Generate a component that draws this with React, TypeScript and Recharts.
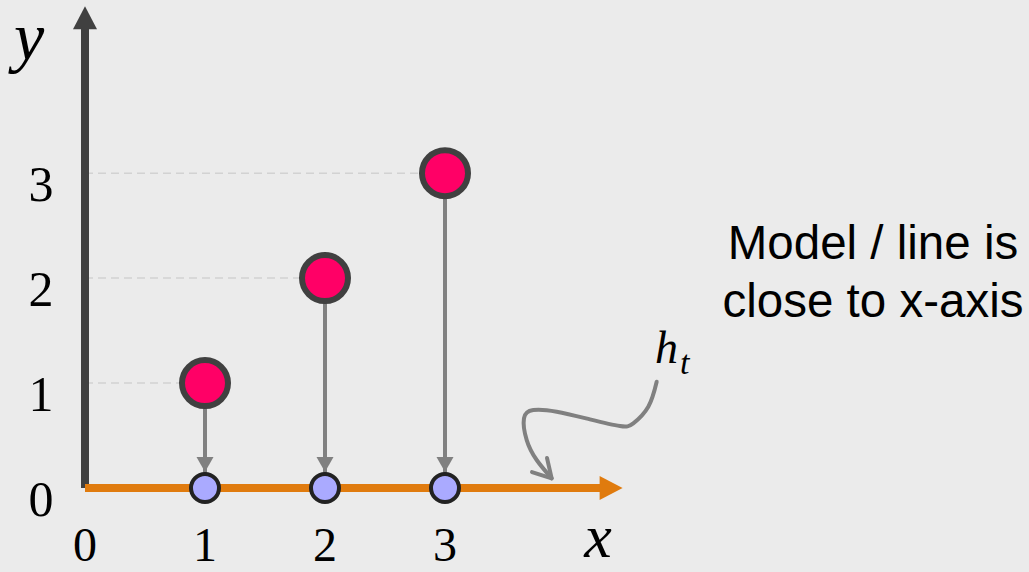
import React from 'react';
import { ComposedChart, XAxis, YAxis, Line, Scatter } from 'recharts';

// ---- data ----
const categories = [1, 2, 3];
const observed = [1, 2, 3];
const predicted = [0, 0, 0];
const xTicks = [0, 1, 2, 3];
const yTicks = [0, 1, 2, 3];
const xAxisEnd = 4.48;
const yAxisEnd = 4.59;
const curveX = [4.764, 4.694, 4.569, 4.458, 4.208, 3.931, 3.736, 3.658, 3.681, 3.764, 3.889];
const curveY = [1.012, 0.774, 0.616, 0.59, 0.654, 0.727, 0.743, 0.664, 0.457, 0.267, 0.092];
const headX = [3.725, 3.889, 3.85];
const headY = [0.152, 0.092, 0.286];

const redPts = categories.map((x, i) => ({ x, y: observed[i] }));
const bluePts = categories.map((x, i) => ({ x, y: predicted[i] }));
const guideLines = categories.map((x, i) => [
  { x: 0, y: observed[i] },
  { x, y: observed[i] },
]);
const dropLines = categories.map((x, i) => [
  { x, y: observed[i] },
  { x, y: predicted[i] },
]);
const yAxisLine = [
  { x: 0, y: 0 },
  { x: 0, y: yAxisEnd - 0.2 },
];
const xAxisLine = [
  { x: 0, y: 0 },
  { x: xAxisEnd - 0.18, y: 0 },
];
const yAxisTip = [{ x: 0, y: yAxisEnd }];
const xAxisTip = [{ x: xAxisEnd, y: 0 }];
const curvePts = curveX.map((x, i) => ({ x, y: curveY[i] }));
const headPts = headX.map((x, i) => ({ x, y: headY[i] }));

const W = 1029;
const H = 572;
const SERIF = '"Liberation Serif", "DejaVu Serif", serif';
const SANS = '"Liberation Sans", Arial, sans-serif';

const XTick = (props: any) => {
  const { x, payload } = props;
  return (
    <text x={x} y={561} textAnchor="middle" fontFamily={SERIF} fontSize={48} fill="#000">
      {payload.value}
    </text>
  );
};

const YTick = (props: any) => {
  const { y, payload } = props;
  return (
    <text x={41} y={y + 28} textAnchor="middle" fontFamily={SERIF} fontSize={50} fill="#000">
      {payload.value}
    </text>
  );
};

const RedDot = (props: any) => {
  const { cx, cy } = props;
  return <circle cx={cx} cy={cy} r={23} fill="#ff0066" stroke="#404040" strokeWidth={6} />;
};

const BlueDot = (props: any) => {
  const { cx, cy } = props;
  return <circle cx={cx} cy={cy} r={14} fill="#aaaaff" stroke="#222222" strokeWidth={4} />;
};

const UpTip = (props: any) => {
  const { cx, cy } = props;
  return <polygon points={`${cx},${cy} ${cx - 12},${cy + 23} ${cx + 12},${cy + 23}`} fill="#404040" />;
};

const RightTip = (props: any) => {
  const { cx, cy } = props;
  return <polygon points={`${cx},${cy} ${cx - 23},${cy - 12} ${cx - 23},${cy + 12}`} fill="#e07b0e" />;
};

const DropTip = (props: any) => {
  const { cx, cy } = props;
  const t = cy - 16;
  return <polygon points={`${cx},${t} ${cx - 8.5},${t - 15} ${cx + 8.5},${t - 15}`} fill="#808080" />;
};

export default function App() {
  return (
    <div
      style={{
        position: 'absolute',
        left: 0,
        top: 0,
        width: W,
        height: H,
        background: '#ebebeb',
        overflow: 'hidden',
      }}
    >
      <ComposedChart width={W} height={H} margin={{ top: 0, right: 104, left: 0, bottom: 0 }}>
        <XAxis
          type="number"
          dataKey="x"
          domain={[0, 7]}
          ticks={xTicks}
          height={84}
          axisLine={false}
          tickLine={false}
          tick={XTick}
        />
        <YAxis
          type="number"
          dataKey="y"
          domain={[0, 4.65]}
          ticks={yTicks}
          width={85}
          axisLine={false}
          tickLine={false}
          tick={YTick}
        />
        {guideLines.map((d, i) => (
          <Line
            key={`g${i}`}
            data={d}
            dataKey="y"
            type="linear"
            stroke="#d2d2d2"
            strokeWidth={1.5}
            strokeDasharray="8 5"
            dot={false}
            activeDot={false}
            isAnimationActive={false}
          />
        ))}
        <Line
          data={yAxisLine}
          dataKey="y"
          type="linear"
          stroke="#404040"
          strokeWidth={8}
          dot={false}
          activeDot={false}
          isAnimationActive={false}
        />
        <Scatter data={yAxisTip} dataKey="y" shape={UpTip} isAnimationActive={false} />
        <Line
          data={xAxisLine}
          dataKey="y"
          type="linear"
          stroke="#e07b0e"
          strokeWidth={8}
          dot={false}
          activeDot={false}
          isAnimationActive={false}
        />
        <Scatter data={xAxisTip} dataKey="y" shape={RightTip} isAnimationActive={false} />
        {dropLines.map((d, i) => (
          <Line
            key={`d${i}`}
            data={d}
            dataKey="y"
            type="linear"
            stroke="#808080"
            strokeWidth={4}
            dot={false}
            activeDot={false}
            isAnimationActive={false}
          />
        ))}
        <Scatter data={bluePts} dataKey="y" shape={DropTip} isAnimationActive={false} />
        <Scatter data={bluePts} dataKey="y" shape={BlueDot} isAnimationActive={false} />
        <Scatter data={redPts} dataKey="y" shape={RedDot} isAnimationActive={false} />
        <Line
          data={curvePts}
          dataKey="y"
          type="natural"
          stroke="#808080"
          strokeWidth={4}
          strokeLinecap="round"
          dot={false}
          activeDot={false}
          isAnimationActive={false}
        />
        <Line
          data={headPts}
          dataKey="y"
          type="linear"
          stroke="#808080"
          strokeWidth={4}
          strokeLinecap="round"
          strokeLinejoin="round"
          dot={false}
          activeDot={false}
          isAnimationActive={false}
        />
      </ComposedChart>
      <svg
        width={W}
        height={H}
        style={{ position: 'absolute', left: 0, top: 0, pointerEvents: 'none' }}
      >
        <text x={14} y={60} fontFamily={SERIF} fontStyle="italic" fontSize={68} fill="#000">
          y
        </text>
        <text x={598} y={557} textAnchor="middle" fontFamily={SERIF} fontStyle="italic" fontSize={62} fill="#000">
          x
        </text>
        <text x={655} y={363} fontFamily={SERIF} fontStyle="italic" fontSize={46} fill="#000">
          h
        </text>
        <text x={680} y={374} fontFamily={SERIF} fontStyle="italic" fontSize={34} fill="#000">
          t
        </text>
        <text x={873} y={259} textAnchor="middle" fontFamily={SANS} fontSize={47.5} fill="#000">
          Model / line is
        </text>
        <text x={873} y={317} textAnchor="middle" fontFamily={SANS} fontSize={47.5} fill="#000">
          close to x-axis
        </text>
      </svg>
    </div>
  );
}
